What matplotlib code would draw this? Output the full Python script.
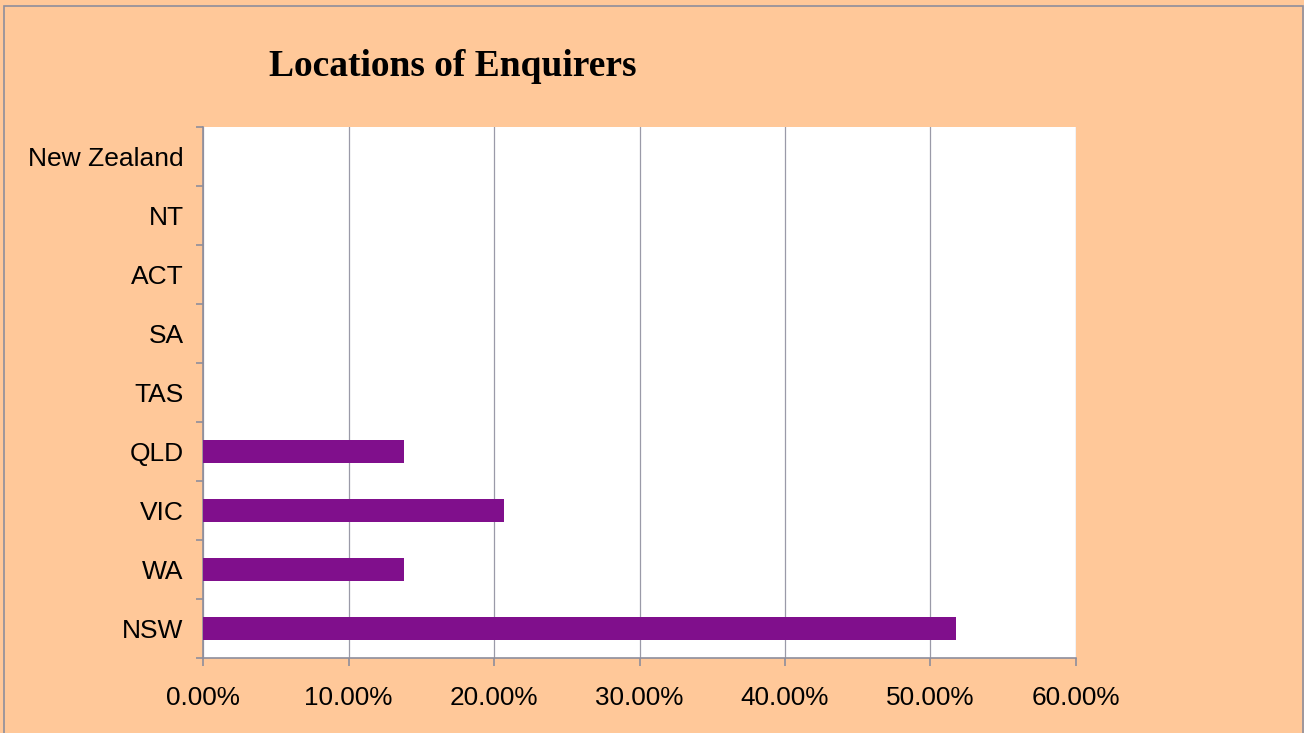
import matplotlib
matplotlib.use('Agg')

import matplotlib.pyplot as plt
from matplotlib.patches import Rectangle
from matplotlib.ticker import FuncFormatter, FixedLocator
import numpy as np

# data (share of enquirers), bottom to top as drawn
locations = ['NSW', 'WA', 'VIC', 'QLD', 'TAS', 'SA', 'ACT', 'NT', 'New Zealand']
shares = [0.5172, 0.1379, 0.2069, 0.1379, 0.0, 0.0, 0.0, 0.0, 0.0]
xticks = [0.0, 0.1, 0.2, 0.3, 0.4, 0.5, 0.6]

peach = '#ffc899'
purple = '#800f8c'
axis_grey = '#8e8e9c'

plt.rcParams['font.family'] = ['Liberation Sans', 'DejaVu Sans']

fig = plt.figure(figsize=(13.04, 7.33), dpi=100)
fig.patch.set_facecolor(peach)
fig.patches.append(Rectangle((4 / 1304, -0.01), 1298.5 / 1304, 1 - 6 / 733 + 0.01,
                             transform=fig.transFigure, fill=False,
                             edgecolor=axis_grey, lw=1.2))

ax = fig.add_axes([203 / 1304, 1 - 658 / 733, 873 / 1304, 531 / 733])
ax.set_facecolor('white')

y = np.arange(len(locations))
ax.barh(y, shares, height=0.4, color=purple, zorder=3)

ax.set_xlim(0, 0.6)
ax.set_ylim(-0.5, len(locations) - 0.5)
ax.set_xticks(xticks)
ax.xaxis.set_major_formatter(FuncFormatter(lambda v, p: '%.2f%%' % (v * 100)))
ax.set_yticks(y)
ax.set_yticklabels(locations)
ax.yaxis.set_minor_locator(FixedLocator(np.arange(-0.5, len(locations), 1.0)))

ax.grid(axis='x', color='#9a9aa8', lw=0.9, zorder=1)
for side in ['top', 'right']:
    ax.spines[side].set_visible(False)
for side in ['left', 'bottom']:
    ax.spines[side].set_color(axis_grey)
    ax.spines[side].set_linewidth(1.2)

ax.tick_params(axis='x', which='major', length=6, width=1.2, color=axis_grey,
               labelsize=18.8, pad=14)
ax.tick_params(axis='y', which='major', length=0, labelsize=19, pad=14)
ax.tick_params(axis='y', which='minor', length=5, width=1.2, color=axis_grey)

fig.text(453 / 1304, 1 - 67 / 733, 'Locations of Enquirers', ha='center', va='center',
         fontsize=27, fontweight='bold', family=['Liberation Serif', 'DejaVu Serif'])

plt.savefig('out.png', dpi=100, facecolor=peach)
